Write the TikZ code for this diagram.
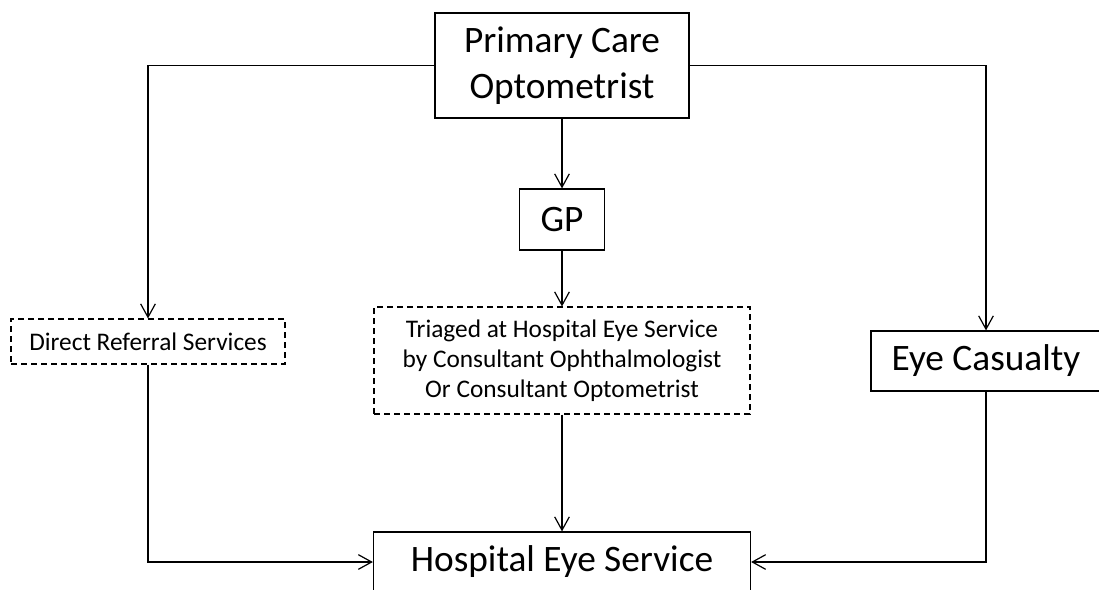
\documentclass[tikz,border=0pt]{standalone}
\usepackage{fontspec}
\setmainfont{Carlito}
\usetikzlibrary{arrows.meta,positioning}

\begin{document}
\begin{tikzpicture}[x=0.75pt,y=-0.75pt,
  box/.style={draw,line width=0.9pt,inner sep=0pt,align=center,font=\fontsize{28}{34}\selectfont},
  dbox/.style={draw,dashed,dash pattern=on 4.5pt off 3pt,line width=0.8pt,inner sep=0pt,align=center,font=\fontsize{19}{22.5}\selectfont},
  link/.style={line width=0.9pt,-{Straight Barb[length=10pt,width=11pt]}}]
\path[use as bounding box,clip] (0,0) rectangle (1099,589);
\node[box,minimum width=190.5pt,minimum height=78.75pt] (pco) at (562,65.5) {Primary Care\\Optometrist};
\node[box,minimum width=63.75pt,minimum height=45.75pt] (gp) at (562,219.5) {GP};
\node[dbox,minimum width=205.5pt,minimum height=33.75pt] (drs) at (148,341.5) {Direct Referral Services};
\node[dbox,minimum width=282pt,minimum height=80.25pt] (tri) at (562,360.5) {Triaged at Hospital Eye Service\\by Consultant Ophthalmologist\\Or Consultant Optometrist};
\node[box,minimum width=172.5pt,minimum height=45pt] (ec) at (986,361) {Eye Casualty};
\node[box,minimum width=282.75pt,minimum height=45pt] (hes) at (562,562) {Hospital Eye Service};
\draw[link] (pco.west) -| (drs.north);
\draw[link] (pco.east) -| (ec.north);
\draw[link] (pco.south) -- (gp.north);
\draw[link] (gp.south) -- (tri.north);
\draw[link] (tri.south) -- (hes.north);
\draw[link] (drs.south) |- (hes.west);
\draw[link] (ec.south) |- (hes.east);
\end{tikzpicture}
\end{document}
